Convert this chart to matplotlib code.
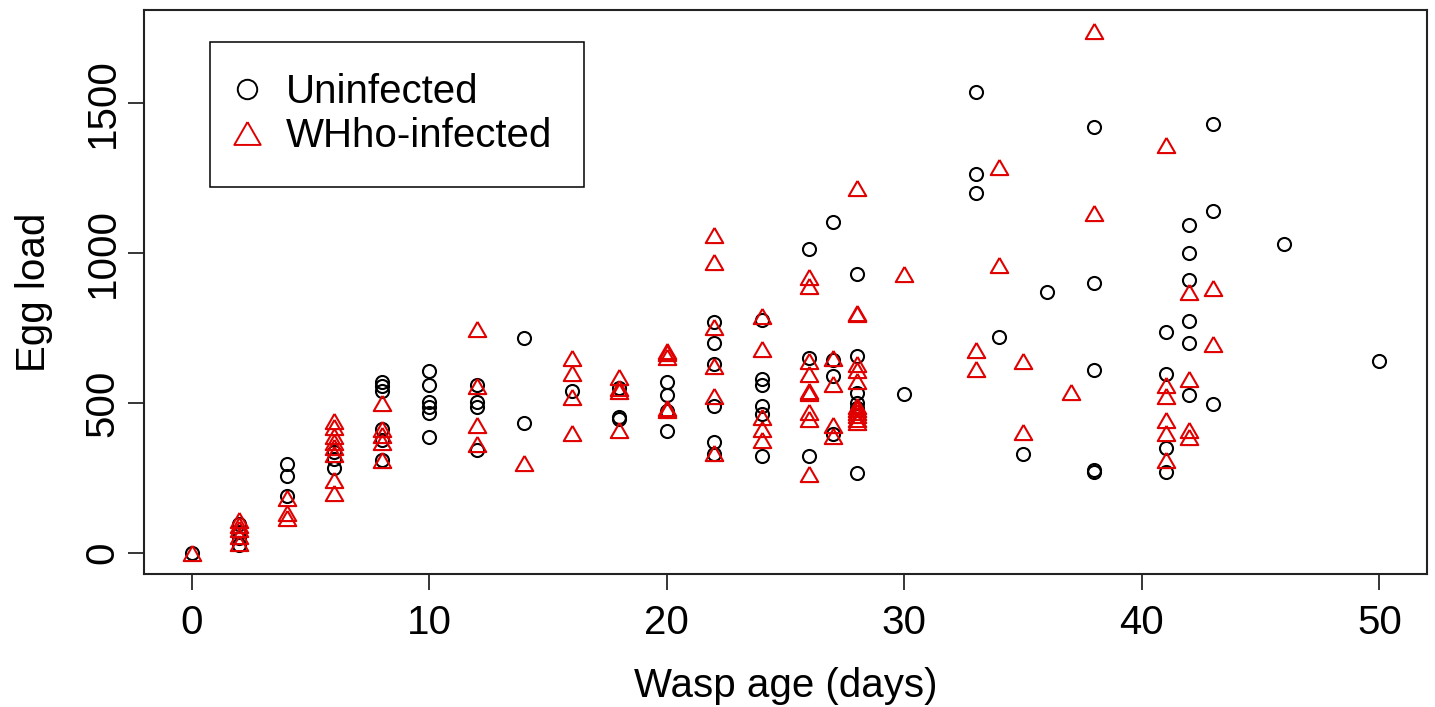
import matplotlib
matplotlib.use("Agg")
import matplotlib.pyplot as plt
from matplotlib.lines import Line2D

plt.rcParams['font.family'] = ['Liberation Sans', 'DejaVu Sans']

# ---- data ----
unin_age = [0,
            2, 2, 2, 2,
            4, 4, 4,
            6, 6, 6,
            8, 8, 8, 8, 8, 8,
            10, 10, 10, 10, 10, 10,
            12, 12, 12, 12,
            14, 14,
            16,
            18, 18, 18,
            20, 20, 20, 20,
            22, 22, 22, 22, 22, 22,
            24, 24, 24, 24, 24, 24,
            26, 26, 26,
            27, 27, 27, 27,
            28, 28, 28, 28, 28, 28,
            30,
            33, 33, 33,
            34, 35, 36,
            38, 38, 38, 38, 38,
            41, 41, 41, 41,
            42, 42, 42, 42, 42, 42,
            43, 43, 43,
            46, 50]
unin_eggs = [0,
             98, 72, 50, 28,
             298, 256, 191,
             337, 315, 285,
             570, 558, 542, 413, 378, 310,
             606, 559, 503, 487, 468, 387,
             561, 503, 487, 345,
             716, 435,
             539,
             549, 453, 446,
             570, 528, 473, 407,
             769, 701, 631, 492, 370, 331,
             777, 581, 559, 492, 465, 323,
             1013, 652, 323,
             1105, 644, 590, 396,
             932, 658, 534, 502, 485, 268,
             531,
             1536, 1263, 1202,
             722, 331, 871,
             1421, 901, 611, 276, 272,
             737, 598, 350, 270,
             1093, 1000, 912, 775, 700, 528,
             1429, 1141, 498,
             1030, 642]

inf_age = [0,
           2, 2, 2, 2, 2,
           4, 4, 4,
           6, 6, 6, 6, 6, 6, 6, 6,
           8, 8, 8, 8, 8,
           12, 12, 12, 12,
           14,
           16, 16, 16, 16,
           18, 18, 18, 18,
           20, 20, 20, 20, 20,
           22, 22, 22, 22, 22, 22,
           24, 24, 24, 24, 24,
           26, 26, 26, 26, 26, 26, 26, 26, 26,
           27, 27, 27, 27,
           28, 28, 28, 28, 28, 28, 28, 28, 28, 28, 28, 28,
           30,
           33, 33,
           34, 34,
           35, 35,
           37,
           38, 38,
           41, 41, 41, 41, 41, 41,
           42, 42, 42, 42,
           43, 43]
inf_eggs = [0,
            112, 95, 80, 58, 33,
            183, 133, 116,
            442, 420, 392, 370, 354, 331, 243, 199,
            499, 415, 395, 370, 309,
            747, 558, 426, 365,
            302,
            651, 601, 520, 401,
            586, 550, 542, 410,
            675, 666, 653, 485, 478,
            1061, 972, 753, 625, 525, 333,
            791, 680, 455, 415, 378,
            919, 891, 642, 596, 541, 534, 471, 448, 265,
            651, 565, 426, 392,
            1218, 802, 797, 631, 612, 575, 492, 481, 470, 459, 448, 437,
            932,
            677, 614,
            1287, 961,
            642, 403,
            536,
            1741, 1135,
            1359, 562, 525, 445, 400, 309,
            869, 581, 411, 387,
            884, 697]

x_ticks = [0, 10, 20, 30, 40, 50]
y_ticks = [0, 500, 1000, 1500]
labels = ["Uninfected", "WHho-infected"]

# R-like triangle (width:height = 2.69:2.33), centred on its bounding box
tri = [(0, 1.1665), (1.347, -1.1665), (-1.347, -1.1665), (0, 1.1665)]

fig = plt.figure(figsize=(14.35, 7.07), dpi=100)
ax = fig.add_axes([144/1435, 1-574/707, (1427-144)/1435, (574-10)/707])

ax.plot(unin_age, unin_eggs, linestyle='none', marker='o', ms=9.4,
        mfc='none', mec='black', mew=1.5)
ax.plot(inf_age, inf_eggs, linestyle='none', marker=tri, ms=12.6,
        mfc='none', mec='#e00000', mew=1.5)

ymax = max(max(unin_eggs), max(inf_eggs))
ax.set_xlim(-0.04*50, 50*1.04)
ax.set_ylim(-0.04*ymax, 1.04*ymax)

ax.set_xticks(x_ticks)
ax.set_yticks(y_ticks)
ax.tick_params(axis='both', direction='out', length=11.5, width=1.1,
               labelsize=29, color='black')
ax.tick_params(axis='x', pad=10)
ax.tick_params(axis='y', pad=4.5)
for lab in ax.get_yticklabels():
    lab.set_rotation(90)
    lab.set_va('center')
for s in ax.spines.values():
    s.set_linewidth(1.5)
    s.set_color('#222222')

ax.set_xlabel("Wasp age (days)", fontsize=29, labelpad=18)
ax.set_ylabel("Egg load", fontsize=29, labelpad=22)

handles = [Line2D([], [], linestyle='none', marker='o', ms=14, mfc='none',
                  mec='black', mew=1.4),
           Line2D([], [], linestyle='none', marker=tri, ms=19, mfc='none',
                  mec='#e00000', mew=1.4)]
leg = ax.legend(handles, labels, loc='upper left',
                bbox_to_anchor=(210/1435, 1-42/707), bbox_transform=fig.transFigure,
                borderaxespad=0, fontsize=29, frameon=True, fancybox=False,
                shadow=False, framealpha=1, edgecolor='black',
                borderpad=0.78, labelspacing=0.15, handlelength=0.28,
                handletextpad=0.82, handleheight=0.7)
leg.get_frame().set_linewidth(1.1)

fig.savefig("out.png", dpi=100)
